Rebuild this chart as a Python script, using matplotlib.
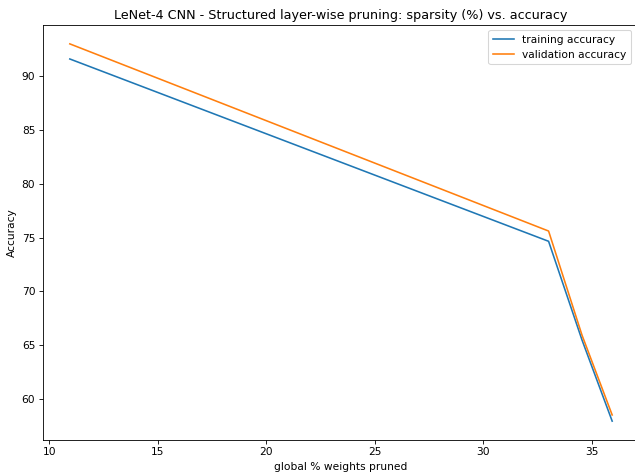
import matplotlib
matplotlib.use("Agg")
import matplotlib.pyplot as plt

sparsity = [10.95, 33.01, 34.55, 35.94]
train_acc = [91.55, 74.65, 65.5, 57.98]
val_acc = [92.95, 75.6, 65.95, 58.55]

DPI = 76.7
fig = plt.figure(figsize=(635 / DPI, 474 / DPI), dpi=DPI)
ax = fig.add_axes([42.7 / 635, 34 / 474, (639.3 - 42.7) / 635, (440 - 25) / 474])

ax.plot(sparsity, train_acc, color="#1f77b4", label="training accuracy")
ax.plot(sparsity, val_acc, color="#ff7f0e", label="validation accuracy")

ax.set_xlim(9.70, 37.19)
ax.set_ylim(56.23, 94.70)
ax.set_xlabel("global % weights pruned")
ax.set_ylabel("Accuracy")
ax.set_title("LeNet-4 CNN - Structured layer-wise pruning: sparsity (%) vs. accuracy", fontsize=12)
ax.legend(loc="upper right", bbox_to_anchor=(0.995, 1.0))

fig.savefig("out.png", dpi=DPI)
